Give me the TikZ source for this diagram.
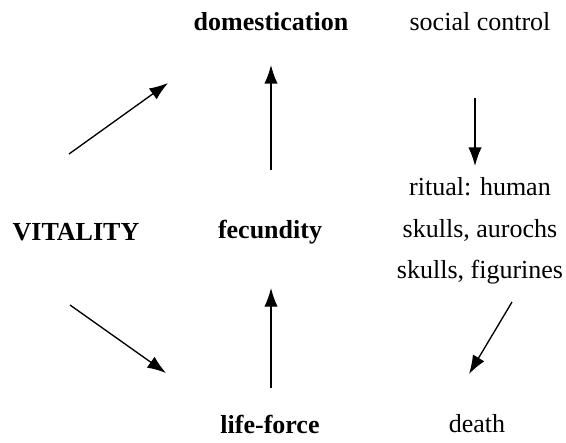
\documentclass[tikz,border=0pt]{standalone}
\usepackage{fontspec}
\setmainfont{Liberation Serif}
\usepackage{tikz}
\usetikzlibrary{arrows.meta}
\tikzset{arr/.style = {-{Latex[length = 14, width = 10]}, line width = 1}}
\tikzset{lbl/.style = {font = \fontsize{19.5}{31}\selectfont, inner sep = 0, align = center}}
\tikzset{blbl/.style = {lbl, font = \fontsize{19.5}{31}\selectfont\bfseries}}

\begin{document}
\begin{tikzpicture}[x = 0.75pt, y = -0.75pt]
    \useasboundingbox (0, 0) rectangle (566, 442);
    \node [blbl] (dom) at (271, 22) {domestication};
    \node [lbl] (soc) at (480, 22) {social control};
    \node [blbl] (vit) at (76, 232) {VITALITY};
    \node [blbl] (fec) at (270, 232) {fecundity};
    \node [lbl] (rit) at (480, 231) {ritual: human\\skulls, aurochs\\skulls, figurines};
    \node [blbl] (lif) at (270, 424) {life-force};
    \node [lbl] (dea) at (477, 424) {death};
    \coordinate (vit-up) at (69, 154);
    \coordinate (dom-in) at (168, 83);
    \coordinate (vit-dn) at (70, 305);
    \coordinate (lif-in) at (166, 373);
    \coordinate (fec-up) at (271, 170);
    \coordinate (dom-dn) at (271, 65);
    \coordinate (lif-up) at (271, 388);
    \coordinate (fec-dn) at (271, 288);
    \coordinate (soc-dn) at (475, 98);
    \coordinate (rit-up) at (475, 166);
    \coordinate (rit-dn) at (512, 302);
    \coordinate (dea-up) at (469, 374);
    \draw [arr] (vit-up) -- (dom-in);
    \draw [arr] (vit-dn) -- (lif-in);
    \draw [arr] (fec-up) -- (dom-dn);
    \draw [arr] (lif-up) -- (fec-dn);
    \draw [arr] (soc-dn) -- (rit-up);
    \draw [arr] (rit-dn) -- (dea-up);
  \end{tikzpicture}
\end{document}
